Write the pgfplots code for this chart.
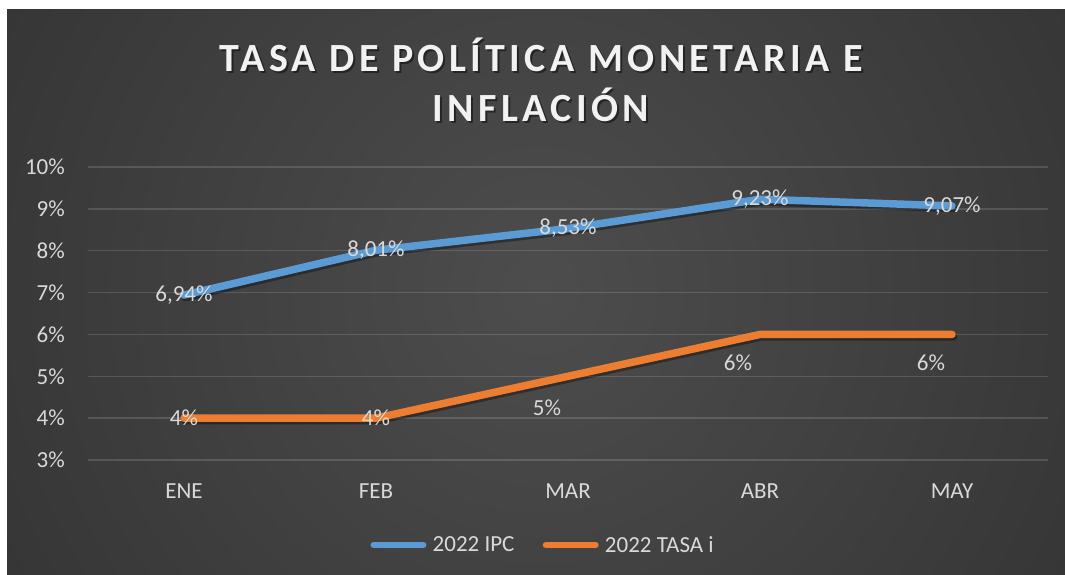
\documentclass[border=0pt]{standalone}
\usepackage{fontspec}
\setmainfont{Carlito}
\usepackage{pgfplots}
\pgfplotsset{compat=1.18}
\usepackage{pgfplotstable}
\definecolor{ipc}{HTML}{5B9BD5}
\definecolor{tasa}{HTML}{ED7D31}
\definecolor{txt}{HTML}{D9D9D9}
\definecolor{bgin}{HTML}{4D4D4D}
\definecolor{bgout}{HTML}{1F1F1F}
\pgfdeclareradialshading{chartbg}{\pgfpoint{0bp}{0bp}}{color(0bp)=(bgin); color(50bp)=(bgout)}

\pgfplotstableread{
x y lab
0 6.94 6,94
1 8.01 8,01
2 8.53 8,53
3 9.23 9,23
4 9.07 9,07
}\ipcdata

\pgfplotstableread{
x y lab dx dy
0 4 4 0 0
1 4 4 0 0
2 5 5 -21 -31
3 6 6 -22 -28
4 6 6 -21 -28
}\tasadata

\newcommand{\lblfont}{\fontsize{23bp}{27bp}\selectfont}
\newcommand{\ttlfont}{\fontsize{40bp}{48bp}\selectfont\bfseries\addfontfeatures{LetterSpace=11}}

\begin{document}
\begin{tikzpicture}
\useasboundingbox (0,0) rectangle (1065bp,575bp);
\fill[white] (0,0) rectangle (1065bp,575bp);
\begin{scope}
\clip (7bp,0bp) rectangle (1065bp,565bp);
\fill[shading=chartbg] (-60bp,-315bp) rectangle (1140bp,885bp);
\end{scope}

% title
\node[anchor=base, text=black, opacity=0.45, font=\ttlfont] at (543bp,501bp) {TASA DE POLÍTICA MONETARIA E};
\node[anchor=base, text=black, opacity=0.45, font=\ttlfont] at (543bp,451bp) {INFLACIÓN};
\node[anchor=base, text=white!95!black, font=\ttlfont] at (541bp,503bp) {TASA DE POLÍTICA MONETARIA E};
\node[anchor=base, text=white!95!black, font=\ttlfont] at (541bp,453bp) {INFLACIÓN};

\begin{axis}[
  at={(88bp,115bp)}, anchor=south west,
  scale only axis, width=960bp, height=293bp,
  xmin=-0.5, xmax=4.5, ymin=3, ymax=10,
  xtick={0,1,2,3,4}, xticklabels={ENE,FEB,MAR,ABR,MAY},
  ytick={3,4,5,6,7,8,9,10},
  yticklabels={3\%,4\%,5\%,6\%,7\%,8\%,9\%,10\%},
  axis line style={draw=none}, major tick length=0pt,
  ymajorgrids, grid style={white, opacity=0.14, line width=1.5bp},
  tick label style={font=\lblfont, text=txt},
  yticklabel style={inner sep=0pt, anchor=east, xshift=-23bp},
  xticklabel style={inner sep=0pt, anchor=base, yshift=-38bp},
  /pgf/number format/assume math mode=true,
  clip=false,
  legend columns=2,
  legend image code/.code={\path (0bp,0bp) (56bp,0bp); \draw[#1] (3.25bp,0bp) -- (52.75bp,0bp);},
  legend style={at={(rel axis cs:0.2875,-0.29)}, anchor=west, draw=none, fill=none,
    font=\lblfont, text=txt, nodes={inner sep=0pt},
    /tikz/every odd column/.append style={column sep=3bp},
    /tikz/every even column/.append style={column sep=25bp}},
  point meta=explicit symbolic,
  nodes near coords={\pgfplotspointmeta\%},
  nodes near coords style={font=\lblfont, text=txt, inner sep=0pt, anchor=center},
]
% shadows
\addplot[black, opacity=0.35, line width=7.5bp, line cap=round, line join=round, xshift=1.5bp, yshift=-2.5bp, forget plot, nodes near coords={}] table[x=x, y=y, meta=lab] {\ipcdata};
\addplot[black, opacity=0.35, line width=7.5bp, line cap=round, line join=round, xshift=1.5bp, yshift=-2.5bp, forget plot, nodes near coords={}] table[x=x, y=y, meta=lab] {\tasadata};
% lines
\addplot[ipc, line width=7.5bp, line cap=round, line join=round, forget plot] table[x=x, y=y, meta=lab] {\ipcdata};
\addplot[tasa, line width=7.5bp, line cap=round, line join=round, forget plot,
  visualization depends on={\thisrow{dx}\as\dx},
  visualization depends on={\thisrow{dy}\as\dy},
  nodes near coords style={xshift=\dx bp, yshift=\dy bp}] table[x=x, y=y, meta=lab] {\tasadata};
\addlegendimage{ipc, line width=6.5bp, line cap=round}
\addlegendentry{2022 IPC}
\addlegendimage{tasa, line width=6.5bp, line cap=round}
\addlegendentry{2022 TASA i}
\end{axis}
\end{tikzpicture}
\end{document}
